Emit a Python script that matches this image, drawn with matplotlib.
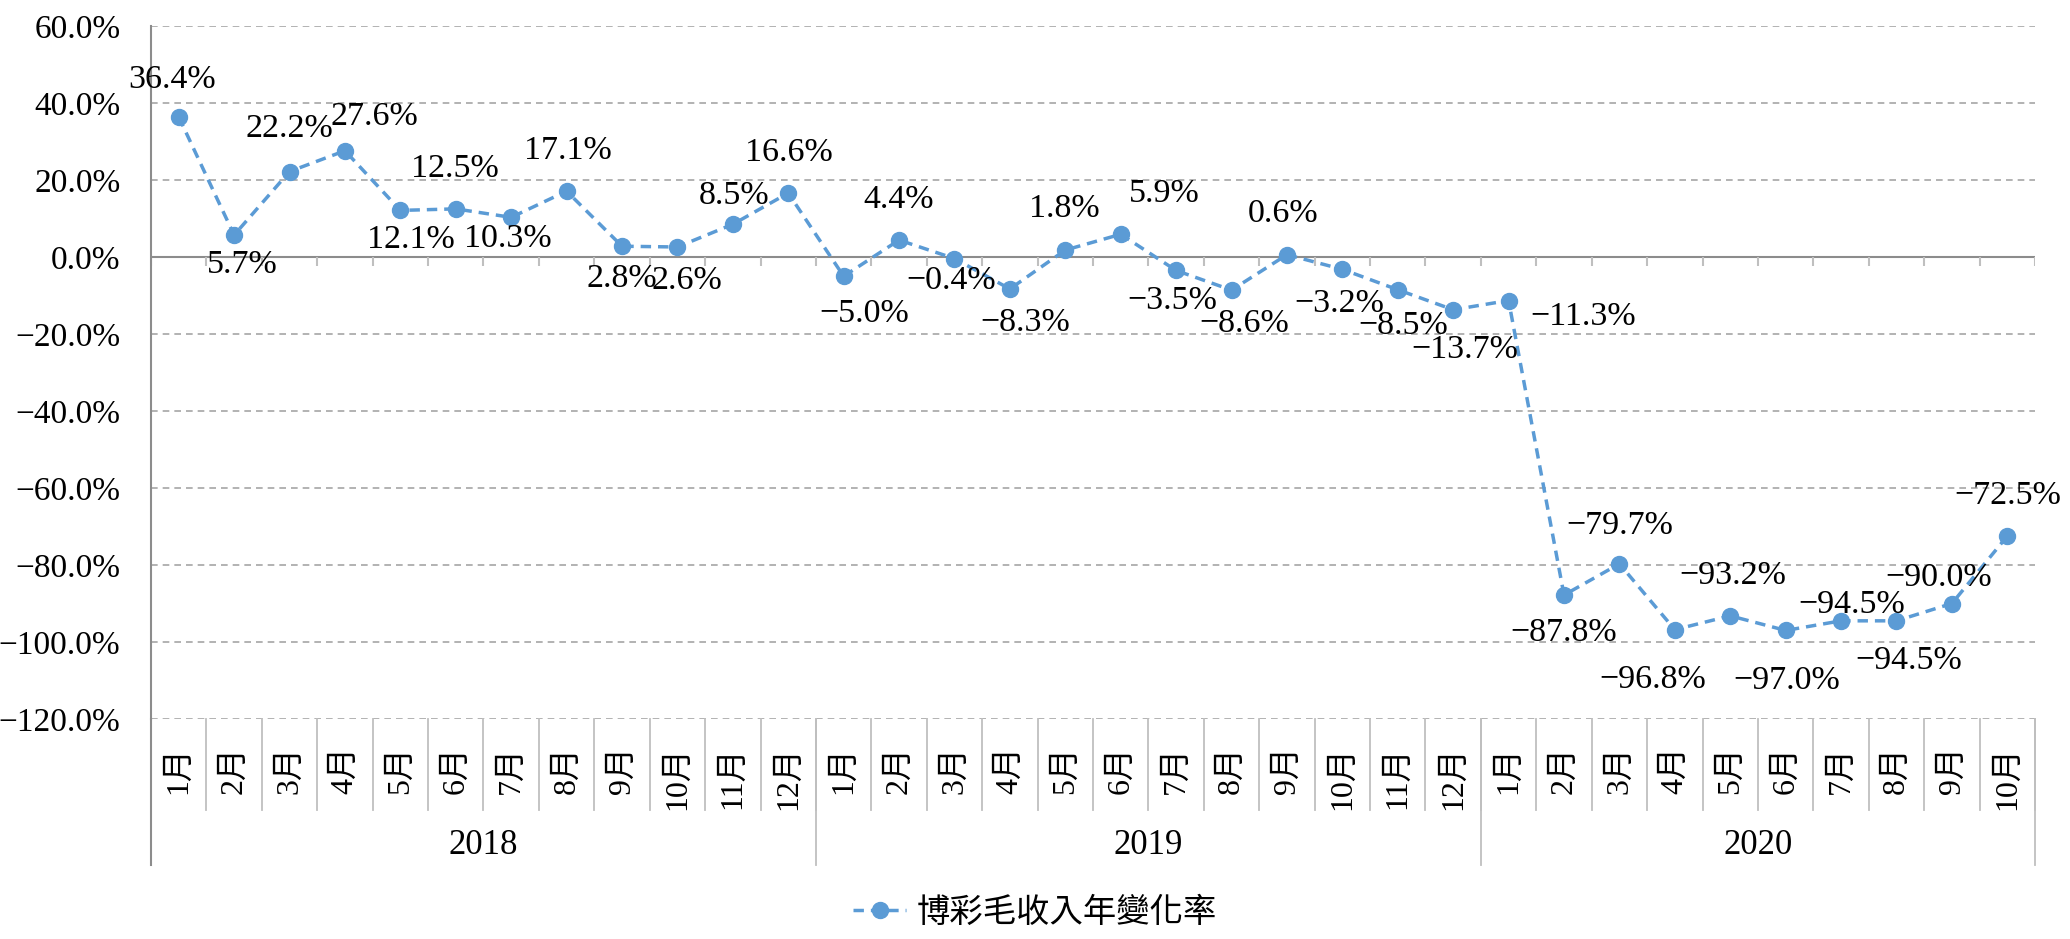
import matplotlib
matplotlib.use('Agg')
import matplotlib.pyplot as plt
import matplotlib.transforms as mtransforms

plt.rcParams['font.family'] = ['Liberation Serif', 'Noto Sans CJK TC']

# data
years = ['2018', '2019', '2020']
months_per_year = [12, 12, 10]
month_labels = ['%d月' % m for n in months_per_year for m in range(1, n + 1)]
yoy_change = [36.4, 5.7, 22.2, 27.6, 12.1, 12.5, 10.3, 17.1, 2.8, 2.6, 8.5, 16.6,
              -5.0, 4.4, -0.4, -8.3, 1.8, 5.9, -3.5, -8.6, 0.6, -3.2, -8.5, -13.7,
              -11.3, -87.8, -79.7, -96.8, -93.2, -97.0, -94.5, -94.5, -90.0, -72.5]
series_name = '博彩毛收入年變化率'

# label offsets (pixels) so the labels sit like in the original
label_offsets = [(-7, 37), (8, -30), (0, 43), (29, 34), (11, -29), (-1, 40),
                 (-3, -21), (1, 40), (0, -33), (9, -34), (1, 29), (1, 40),
                 (21, -38), (0, 40), (-3, -22), (15, -34), (-1, 41), (44, 41),
                 (-4, -30), (13, -34), (-4, 41), (-3, -34), (5, -36), (12, -40),
                 (75, -16), (0, -38), (0, 38), (-22, -50), (3, 40), (1, -50),
                 (11, 16), (12, -40), (-13, 26), (0, 40)]


def pct(v):
    return ('%.1f%%' % v).replace('-', '\u2212')


blue = '#5B9BD5'
grey = '#8c8c8c'
light = '#bfbfbf'

W, H = 2070, 939
fig = plt.figure(figsize=(W / 100, H / 100), dpi=100)
left, right, top, bottom = 151, 2035, 26, 719
ax = fig.add_axes([left / W, 1 - bottom / H, (right - left) / W, (bottom - top) / H])

x = list(range(len(yoy_change)))
line, = ax.plot(x, yoy_change, color=blue, lw=2.5, linestyle=(0, (3, 2)),
                marker='o', markersize=11.5, markeredgecolor=blue, label=series_name)

for xi, v, (dx, dy) in zip(x, yoy_change, label_offsets):
    ax.annotate(pct(v), (xi, v), xytext=(dx, dy), textcoords='offset pixels',
                ha='center', va='center', fontsize=24.5)

ax.set_xlim(-0.5, len(x) - 0.5)
ax.set_ylim(-120, 60)
ax.set_yticks(range(-120, 61, 20))
ax.set_yticklabels([pct(t) for t in range(-120, 61, 20)], fontsize=24)
ax.tick_params(axis='y', length=0, pad=22)
ax.set_xticks([])
ax.grid(axis='y', color='#a6a6a6', linestyle=(0, (4, 3)), lw=1.2)
ax.set_axisbelow(True)
for s in ['top', 'right', 'bottom']:
    ax.spines[s].set_visible(False)
ax.spines['left'].set_color(grey)
ax.spines['left'].set_linewidth(1.5)

# category axis at zero with tick marks at boundaries
ax.axhline(0, color=grey, lw=1.5, zorder=1)
bounds = [i - 0.5 for i in range(len(x) + 1)]
ax.vlines(bounds, -2.4, 0, color=light, lw=1.5, zorder=1)

# multi-level category table below the plot
tr = mtransforms.blended_transform_factory(ax.transData, ax.transAxes)
month_bottom = -(810 - bottom) / (bottom - top)
year_bottom = -(865 - bottom) / (bottom - top)
for b in bounds:
    ax.plot([b, b], [0, month_bottom], transform=tr, color=light, lw=1.3, clip_on=False)
ends = [-0.5]
for n in months_per_year:
    ends.append(ends[-1] + n)
for b in ends:
    ax.plot([b, b], [0, year_bottom], transform=tr, color=light, lw=1.3, clip_on=False)
ax.plot([-0.5, -0.5], [0, year_bottom], transform=tr, color=grey, lw=1.5, clip_on=False)

label_top = -(746 - bottom) / (bottom - top)
for xi, lab in zip(x, month_labels):
    ax.text(xi, label_top, lab, transform=tr, rotation=90, ha='center', va='top',
            fontsize=23)
year_y = -(845 - bottom) / (bottom - top)
for i, yr in enumerate(years):
    ax.text((ends[i] + ends[i + 1]) / 2, year_y, yr, transform=tr, ha='center',
            va='center', fontsize=25)

fig.legend(handles=[line], loc='center', bbox_to_anchor=(0.5, 1 - 913 / H),
           frameon=False, fontsize=24, handlelength=1.6, handletextpad=0.3)

fig.savefig('out.png', dpi=100)
